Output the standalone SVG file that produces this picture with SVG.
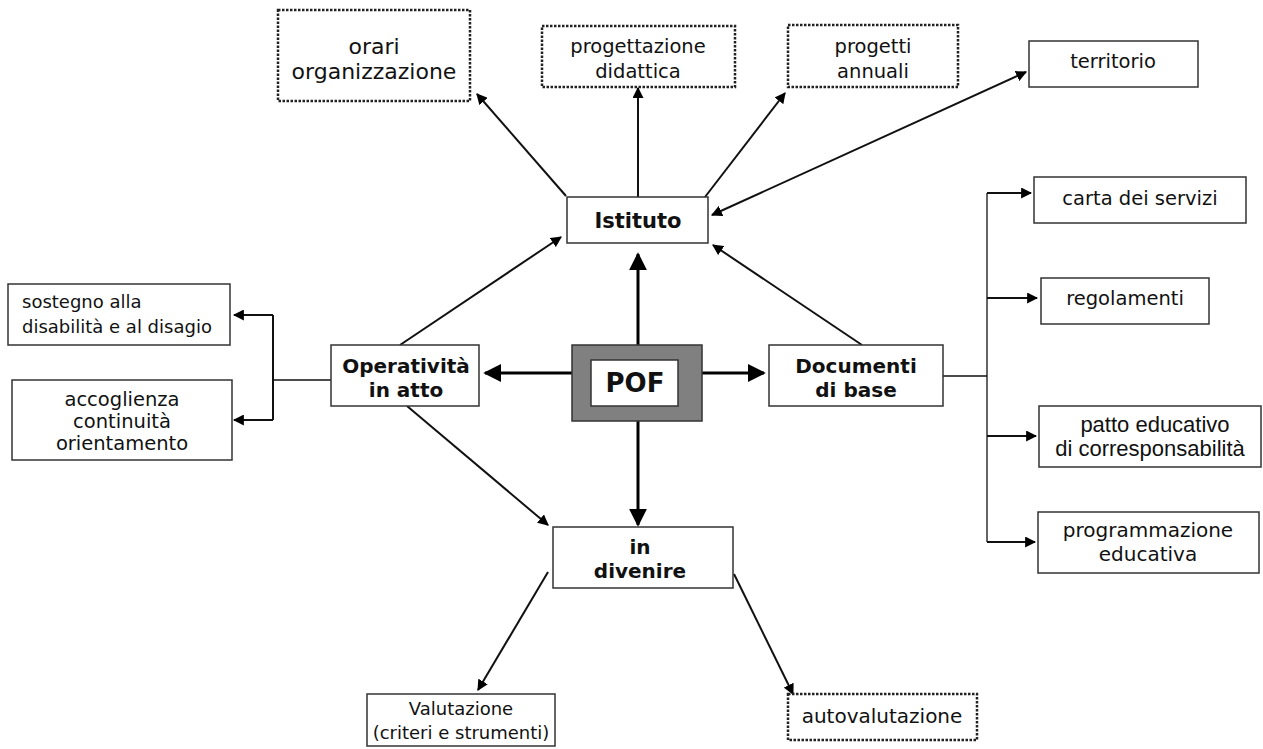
<svg xmlns="http://www.w3.org/2000/svg" width="1263" height="749" viewBox="0 0 1263 749">
<defs>
<marker id="ah" viewBox="0 0 10 10" refX="9" refY="5" markerWidth="11" markerHeight="11" markerUnits="userSpaceOnUse" orient="auto-start-reverse"><path d="M0,0 L10,5 L0,10 z" fill="#000"/></marker>
<marker id="ahb" viewBox="0 0 10 10" refX="9" refY="5" markerWidth="18" markerHeight="18" markerUnits="userSpaceOnUse" orient="auto"><path d="M0,0 L10,5 L0,10 z" fill="#000"/></marker>
</defs>
<style>
.box{fill:#fff;stroke:#333;stroke-width:1.5}
.dot{fill:#fff;stroke:#222;stroke-width:2.5;stroke-dasharray:2.5 1.5}
.t{font-family:"DejaVu Sans",Verdana,sans-serif;font-size:19.5px;fill:#111;text-anchor:middle}
.b{font-family:"DejaVu Sans",Verdana,sans-serif;font-size:20px;font-weight:bold;fill:#111;text-anchor:middle}
.a{font-family:"Liberation Sans",Arial,sans-serif;font-size:22px;fill:#111;text-anchor:middle}
.c{fill:none;stroke:#111;stroke-width:2}
.cb{fill:none;stroke:#000;stroke-width:3}
.thin{fill:none;stroke:#111;stroke-width:1.3}
</style>
<rect width="1263" height="749" fill="#fff"/>
<g id="connectors">
<line class="c" x1="566" y1="196" x2="477" y2="94" marker-end="url(#ah)"/>
<line class="c" x1="638" y1="197" x2="638" y2="88" marker-end="url(#ah)"/>
<line class="c" x1="705" y1="197" x2="785" y2="93" marker-end="url(#ah)"/>
<line class="c" x1="712" y1="215" x2="1026" y2="72" marker-start="url(#ah)" marker-end="url(#ah)"/>
<line class="c" x1="400" y1="345" x2="561" y2="237" marker-end="url(#ah)"/>
<line class="c" x1="862" y1="345" x2="713" y2="245" marker-end="url(#ah)"/>
<line class="cb" x1="638" y1="345" x2="638" y2="254" marker-end="url(#ahb)"/>
<line class="cb" x1="572" y1="373" x2="485" y2="373" marker-end="url(#ahb)"/>
<line class="cb" x1="702" y1="373" x2="764" y2="373" marker-end="url(#ahb)"/>
<line class="cb" x1="638" y1="421" x2="638" y2="525" marker-end="url(#ahb)"/>
<line class="c" x1="407" y1="406" x2="548" y2="525" marker-end="url(#ah)"/>
<line class="c" x1="548" y1="572" x2="478" y2="690" marker-end="url(#ah)"/>
<line class="c" x1="734" y1="574" x2="793" y2="694" marker-end="url(#ah)"/>
<polyline class="thin" points="331,380 273,380"/>
<polyline class="c" points="273,315 273,420"/>
<line class="c" x1="273" y1="315" x2="234" y2="315" marker-end="url(#ah)"/>
<line class="c" x1="273" y1="420" x2="234" y2="420" marker-end="url(#ah)"/>
<polyline class="thin" points="943,376 987,376"/>
<polyline class="thin" points="987,193 987,542"/>
<line class="c" x1="987" y1="193" x2="1031" y2="193" marker-end="url(#ah)"/>
<line class="c" x1="987" y1="298" x2="1037" y2="298" marker-end="url(#ah)"/>
<line class="c" x1="987" y1="436" x2="1036" y2="436" marker-end="url(#ah)"/>
<line class="c" x1="987" y1="542" x2="1035" y2="542" marker-end="url(#ah)"/>
</g>
<g id="orari"><rect class="dot" x="278" y="10" width="192" height="91"/><text class="t" x="374" y="54" style="font-size:22px">orari</text><text class="t" x="374" y="79" style="font-size:22px">organizzazione</text></g>
<g id="progettazione"><rect class="dot" x="542" y="26" width="193" height="61"/><text class="t" x="638" y="53">progettazione</text><text class="t" x="638" y="78">didattica</text></g>
<g id="progetti"><rect class="dot" x="788" y="25" width="170" height="62"/><text class="t" x="873" y="53">progetti</text><text class="t" x="873" y="78">annuali</text></g>
<g id="territorio"><rect class="box" x="1029" y="41" width="169" height="46"/><text class="t" x="1113" y="68">territorio</text></g>
<g id="istituto"><rect class="box" x="567" y="197" width="141" height="46"/><text class="b" x="638" y="228" style="font-size:21px">Istituto</text></g>
<g id="carta"><rect class="box" x="1034" y="177" width="212" height="46"/><text class="t" x="1140" y="205">carta dei servizi</text></g>
<g id="sostegno"><rect class="box" x="8" y="284" width="222" height="61"/><text class="t" x="22" y="308" style="text-anchor:start;font-size:18px">sostegno alla</text><text class="t" x="22" y="333" style="text-anchor:start;font-size:18px">disabilità e al disagio</text></g>
<g id="regolamenti"><rect class="box" x="1041" y="278" width="168" height="46"/><text class="t" x="1125" y="305">regolamenti</text></g>
<g id="operativita"><rect class="box" x="331" y="345" width="148" height="61"/><text class="b" x="406" y="373">Operatività</text><text class="b" x="406" y="397">in atto</text></g>
<g id="pof"><rect x="572" y="345" width="130" height="76" fill="#808080" stroke="#333" stroke-width="1.5"/><rect x="591" y="360" width="87" height="46" fill="#fff" stroke="#333" stroke-width="1.5"/><text class="b" x="635" y="392" style="font-size:26px">POF</text></g>
<g id="documenti"><rect class="box" x="769" y="345" width="174" height="61"/><text class="b" x="856" y="373">Documenti</text><text class="b" x="856" y="397">di base</text></g>
<g id="accoglienza"><rect class="box" x="12" y="380" width="220" height="80"/><text class="t" x="122" y="406">accoglienza</text><text class="t" x="122" y="428">continuità</text><text class="t" x="122" y="450">orientamento</text></g>
<g id="patto"><rect class="box" x="1039" y="406" width="222" height="61"/><text class="a" x="1155" y="432">patto educativo</text><text class="a" x="1150" y="456">di corresponsabilità</text></g>
<g id="programmazione"><rect class="box" x="1038" y="512" width="221" height="61"/><text class="t" x="1148" y="537" style="font-size:20px">programmazione</text><text class="t" x="1148" y="561" style="font-size:20px">educativa</text></g>
<g id="divenire"><rect class="box" x="553" y="527" width="180" height="61"/><text class="b" x="640" y="554">in</text><text class="b" x="640" y="578">divenire</text></g>
<g id="valutazione"><rect class="box" x="367" y="694" width="188" height="52"/><text class="t" x="461" y="715" style="font-size:18px">Valutazione</text><text class="t" x="461" y="739" style="font-size:18px">(criteri e strumenti)</text></g>
<g id="autovalutazione"><rect class="dot" x="788" y="694" width="189" height="46"/><text class="t" x="882" y="723" style="font-size:20px">autovalutazione</text></g>
</svg>
